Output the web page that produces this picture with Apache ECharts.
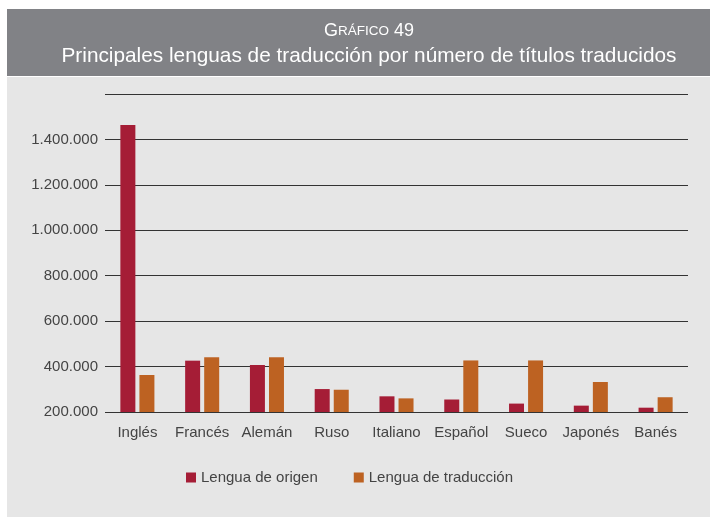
<!DOCTYPE html>
<html>
<head>
<meta charset="utf-8">
<script src="https://cdn.jsdelivr.net/npm/echarts@6/dist/echarts.min.js"></script>
<style>
  html, body { margin: 0; padding: 0; background: #fff; }
  #chart { width: 710px; height: 524px; }
</style>
</head>
<body>
<div id="chart"></div>
<script>
// categories and series
const lenguas = ['Inglés', 'Francés', 'Alemán', 'Ruso', 'Italiano', 'Español', 'Sueco', 'Japonés', 'Banés']
const origen = [1464000, 426000, 407000, 301000, 269000, 255000, 237000, 228000, 219000]
const traduccion = [363000, 441000, 441000, 298000, 260000, 427000, 427000, 332000, 265000]
const yTicks = [200000, 400000, 600000, 800000, 1000000, 1200000, 1400000, 1600000]

const font = '"Liberation Sans", Arial, sans-serif'

// 1400000 -> 1.400.000
function puntos(v) {
	return String(v).replace(/\B(?=(\d{3})+(?!\d))/g, '.')
}

const chart = echarts.init(document.getElementById('chart'), null, { renderer: 'canvas' })

chart.setOption({
	animation: false,
	backgroundColor: '#ffffff',
	textStyle: { fontFamily: font },
	graphic: [
		{ type: 'rect', z: -10, shape: { x: 7, y: 9, width: 710, height: 67 }, style: { fill: '#818286' } },
		{ type: 'rect', z: -10, shape: { x: 7, y: 77, width: 710, height: 440 }, style: { fill: '#e6e6e6' } }
	],
	title: [
		{
			text: '{big|G}{small|RÁFICO}{big| 49}',
			left: 364, top: 17, textAlign: 'center',
			textStyle: {
				fontWeight: 'normal',
				rich: {
					big: { fontSize: 18, fontWeight: 'normal', color: '#ffffff', fontFamily: font },
					small: { fontSize: 13.5, fontWeight: 'normal', color: '#ffffff', fontFamily: font }
				}
			}
		},
		{
			text: 'Principales lenguas de traducción por número de títulos traducidos',
			left: 364, top: 41, textAlign: 'center',
			textStyle: { fontSize: 20.8, fontWeight: 'normal', color: '#ffffff', fontFamily: font }
		}
	],
	legend: {
		left: 181, top: 465,
		itemWidth: 10, itemHeight: 10, itemGap: 36,
		icon: 'rect',
		textStyle: { fontSize: 15, color: '#444444', fontFamily: font },
		data: ['Lengua de origen', 'Lengua de traducción']
	},
	grid: { left: 105, right: 22, top: 94, bottom: 112 },
	xAxis: {
		type: 'category',
		data: lenguas,
		axisLine: { show: false },
		axisTick: { show: false },
		axisLabel: { interval: 0, fontSize: 15, color: '#444444', margin: 13, fontFamily: font }
	},
	yAxis: {
		type: 'value',
		min: yTicks[0],
		max: yTicks[yTicks.length - 1],
		interval: 200000,
		axisLine: { show: false },
		axisTick: { show: false },
		splitLine: { lineStyle: { color: '#333333', width: 1.2 } },
		axisLabel: {
			fontSize: 15, color: '#444444', margin: 7, fontFamily: font,
			formatter: v => v === yTicks[yTicks.length - 1] ? '' : puntos(v)
		}
	},
	series: [
		{
			name: 'Lengua de origen',
			type: 'bar',
			data: origen,
			barWidth: 15,
			barGap: '27%',
			itemStyle: { color: '#a51d36' }
		},
		{
			name: 'Lengua de traducción',
			type: 'bar',
			data: traduccion,
			barWidth: 15,
			itemStyle: { color: '#bd6222' }
		}
	]
})
</script>
</body>
</html>
